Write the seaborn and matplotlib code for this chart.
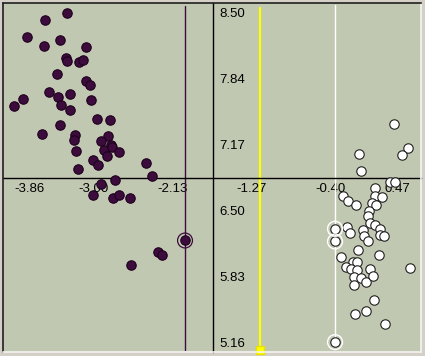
import numpy as np
import pandas as pd
import matplotlib
matplotlib.use("Agg")
import matplotlib.pyplot as plt
import seaborn as sns

# ---- data -------------------------------------------------------------
dark_x = [-3.284, -3.524, -3.718, -3.360, -3.535, -3.073, -3.295, -3.280, -3.146, -3.105,
          -3.390, -3.076, -3.026, -3.481, -3.765, -3.860, -3.379, -3.248, -3.349, -3.021,
          -3.251, -2.956, -2.814, -3.360, -3.557, -3.193, -3.207, -2.829, -2.912, -2.803,
          -2.876, -2.785, -2.712, -3.182, -2.846, -2.999, -2.945, -2.420, -3.163, -2.354,
          -2.756, -2.912, -2.999, -2.774, -2.709, -2.592, -1.990, -2.289, -2.238, -2.581]
dark_y = [8.500, 8.432, 8.252, 8.229, 8.161, 8.151, 8.039, 8.009, 8.006, 8.019,
          7.877, 7.806, 7.772, 7.694, 7.627, 7.552, 7.643, 7.674, 7.569, 7.613,
          7.511, 7.420, 7.410, 7.366, 7.267, 7.261, 7.214, 7.247, 7.196, 7.156,
          7.112, 7.136, 7.085, 7.102, 7.044, 7.011, 6.960, 6.977, 6.912, 6.841,
          6.800, 6.764, 6.655, 6.622, 6.648, 6.622, 6.191, 6.070, 6.046, 5.938]

light_x = [0.292, -0.087, 0.452, 0.379, -0.066, 0.252, 0.306, 0.087, -0.259, 0.087,
           0.161, -0.205, -0.120, 0.051, 0.095, 0.025, 0.011, -0.350, -0.222, -0.186,
           0.033, 0.087, 0.142, -0.040, -0.029, 0.142, 0.186, 0.008, -0.350, -0.102,
           0.128, -0.288, -0.156, -0.109, -0.233, -0.172, -0.113, 0.033, 0.470, -0.145,
           -0.066, -0.011, 0.062, -0.145, 0.077, -0.134, -0.014, 0.194, -0.350]
light_y = [7.369, 7.069, 7.125, 7.058, 6.892, 6.787, 6.787, 6.723, 6.645, 6.645,
           6.632, 6.587, 6.554, 6.571, 6.547, 6.486, 6.442, 6.310, 6.327, 6.266,
           6.368, 6.351, 6.310, 6.300, 6.232, 6.249, 6.232, 6.181, 6.181, 6.090,
           6.039, 6.019, 5.975, 5.968, 5.921, 5.897, 5.891, 5.901, 5.911, 5.820,
           5.810, 5.775, 5.826, 5.739, 5.592, 5.444, 5.471, 5.339, 5.160]

dark_selected = [46]
light_selected = [17, 28, 48]
threshold_x = -1.17
axis_cross_x = -1.684
axis_cross_y = 6.828

x_tick_labels = ["-3.86", "-3.00", "-2.13", "-1.27", "-0.40", "0.47"]
y_tick_labels = ["8.50", "7.84", "7.17", "6.50", "5.83", "5.16"]

# ---- style -------------------------------------------------------------
sns.set_style("white")
plt.rcParams["font.family"] = ["Liberation Sans", "DejaVu Sans"]

BG = "#C1C8B2"
DARK = "#3C0C3C"

fig = plt.figure(figsize=(4.25, 3.56), dpi=100, facecolor="#D4D0C8")
ax = fig.add_axes([3 / 425, 4 / 356, 418 / 425, 349 / 356])
ax.set_facecolor(BG)

df_dark = pd.DataFrame({"x": dark_x, "y": dark_y})
df_light = pd.DataFrame({"x": light_x, "y": light_y})

xmin, xmax = min(dark_x + light_x), max(dark_x + light_x)
ymin, ymax = min(dark_y + light_y), max(dark_y + light_y)
padx, pady = 0.12, 0.10
ax.set_xlim(xmin - padx, xmax + padx)
ax.set_ylim(ymin - pady, ymax + pady)

# reference lines
sel_dark_x = dark_x[dark_selected[0]]
sel_light_x = light_x[light_selected[0]]
ax.axvline(sel_dark_x, ymin=0.006, ymax=0.99, color=DARK, lw=1.0, zorder=1)
ax.axvline(threshold_x, ymin=0.004, ymax=0.985, color="#FFFF00", lw=1.6, zorder=1)
ax.plot([threshold_x], [0.007], marker="s", ms=5.5, color="#FFFF00", mec="#E8E000",
        transform=ax.get_xaxis_transform(), clip_on=False, zorder=3)
ax.plot([sel_light_x, sel_light_x], [ymin, ymax + 0.08], color="white", lw=1.0, zorder=1)

# points
sns.scatterplot(data=df_dark, x="x", y="y", color=DARK, edgecolor="#1E001E",
                linewidth=0.8, s=46, ax=ax, zorder=4, legend=False)
sns.scatterplot(data=df_light, x="x", y="y", color="white", edgecolor="#202020",
                linewidth=0.8, s=46, ax=ax, zorder=4, legend=False)

# selection rings
ax.scatter([dark_x[i] for i in dark_selected], [dark_y[i] for i in dark_selected],
           s=115, facecolors="none", edgecolors=DARK, linewidths=0.9, zorder=5)
ax.scatter([light_x[i] for i in light_selected], [light_y[i] for i in light_selected],
           s=115, facecolors="none", edgecolors="white", linewidths=1.0, zorder=5)

# crossing axes
ax.spines["left"].set_position(("data", axis_cross_x))
ax.spines["bottom"].set_position(("data", axis_cross_y))
for s in ["left", "bottom"]:
    ax.spines[s].set_color("black")
    ax.spines[s].set_linewidth(1.0)
    ax.spines[s].set_zorder(2)
ax.spines["top"].set_color("#202020")
ax.spines["top"].set_linewidth(1.2)
ax.spines["right"].set_color("#F4F4F0")
ax.spines["right"].set_linewidth(1.2)
# frame edges for left/bottom
ax.plot([0, 0], [0, 1], color="#202020", lw=1.2, transform=ax.transAxes, clip_on=False, zorder=6)
ax.plot([0, 1], [0, 0], color="#F4F4F0", lw=1.2, transform=ax.transAxes, clip_on=False, zorder=6)

xticks = np.linspace(xmin, xmax, 11)
yticks = np.linspace(ymax, ymin, 11)
xl = []
for i in range(11):
    xl.append(x_tick_labels[i // 2] if i % 2 == 0 else "")
yl = []
for i in range(11):
    yl.append(y_tick_labels[i // 2] if i % 2 == 0 else "")
ax.set_xticks(xticks)
ax.set_xticklabels(xl)
ax.set_yticks(yticks)
ax.set_yticklabels(yl)
ax.tick_params(axis="x", direction="inout", length=3, width=0.8, pad=2.5,
               labelsize=9.5, colors="black")
ax.tick_params(axis="y", direction="inout", length=3, width=0.8, pad=-6.0,
               labelsize=9.5, colors="black")
for lbl in ax.get_yticklabels():
    lbl.set_ha("left")
xlbls = ax.get_xticklabels()
xlbls[0].set_ha("left")
xlbls[-1].set_ha("right")
ax.set_xlabel("")
ax.set_ylabel("")

fig.savefig("out.png", dpi=100, facecolor=fig.get_facecolor())
